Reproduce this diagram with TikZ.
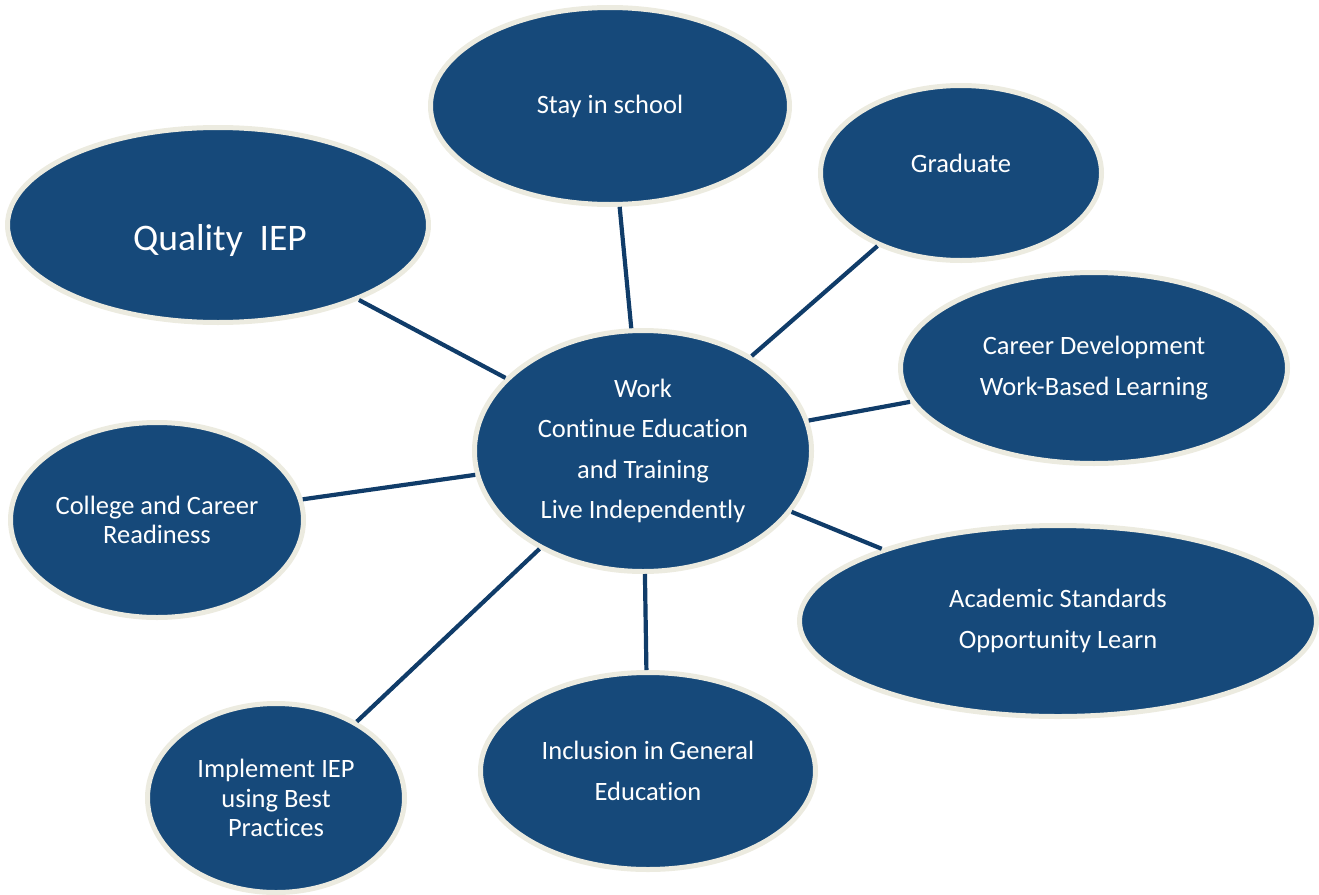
\documentclass[tikz,border=0pt]{standalone}
\usepackage{fontspec}
\setmainfont[Ligatures={NoCommon}]{Carlito}
\usetikzlibrary{shapes.geometric}
\definecolor{bubblefill}{RGB}{22,73,122}
\definecolor{bubbleedge}{RGB}{236,235,224}
\definecolor{linkcol}{RGB}{16,60,105}
\tikzset{
  bubble/.style={ellipse, fill=bubblefill, draw=bubbleedge, line width=5pt, inner sep=0pt,
     text=white, align=center, font=\fontsize{26.5}{40.5}\selectfont},
  smallspace/.style={font=\fontsize{26.5}{29.5}\selectfont},
  txt/.style={text=white, align=center, font=\fontsize{26.5}{40.5}\selectfont},
  link/.style={draw=linkcol, line width=4.2pt}
}
\begin{document}
\begin{tikzpicture}[x=1pt,y=-1pt]
\useasboundingbox (0,0) rectangle (1319,894);
\node[bubble, minimum width=359, minimum height=197] (stay) at (610,106) {Stay in school};
\node[bubble, minimum width=281, minimum height=175] (grad) at (961,173) {};
\node[txt] at (961,163) {Graduate};
\node[bubble, minimum width=421, minimum height=195] (qual) at (218,225) {};
\node[txt, font=\fontsize{37.5}{40}\selectfont] at (220,240) {Quality\ \ IEP};
\node[bubble, minimum width=387, minimum height=191] (career) at (1094,368) {Career Development\\Work-Based Learning};
\node[bubble, minimum width=337, minimum height=241] (hub) at (643,451) {Work\\Continue Education\\and Training\\Live Independently};
\node[bubble, smallspace, minimum width=293, minimum height=195] (college) at (157,520) {College and Career\\Readiness};
\node[bubble, minimum width=517, minimum height=191] (acad) at (1058,621) {Academic Standards\\Opportunity Learn};
\node[bubble, minimum width=335, minimum height=197] (incl) at (648,771) {Inclusion in General\\Education};
\node[bubble, smallspace, minimum width=257, minimum height=189] (impl) at (276,798) {Implement IEP\\using Best\\Practices};
\begin{scope}
\draw[link] (qual) -- (hub);
\draw[link] (stay) -- (hub);
\draw[link] (grad) -- (hub);
\draw[link] (career) -- (hub);
\draw[link] (acad) -- (hub);
\draw[link] (incl) -- (hub);
\draw[link] (impl) -- (hub);
\draw[link] (college) -- (hub);
\end{scope}
\end{tikzpicture}
\end{document}
